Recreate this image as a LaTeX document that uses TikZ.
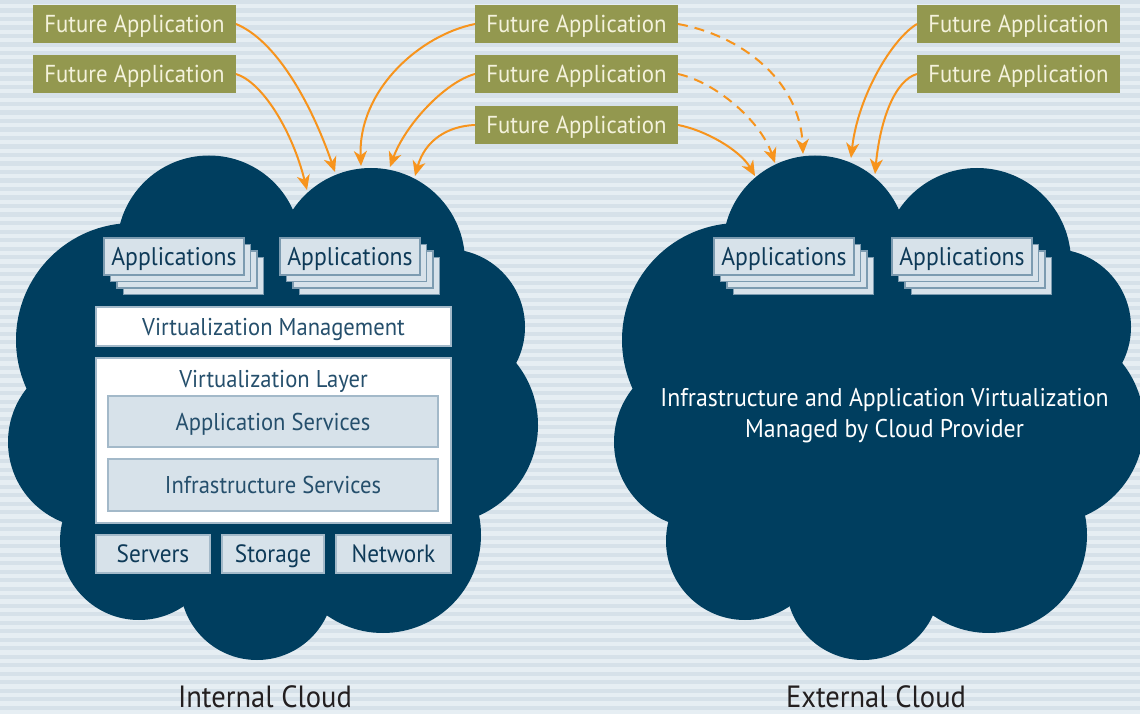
\documentclass[tikz,border=0pt]{standalone}
\usepackage{fontspec}
\setmainfont{PT Sans}[FakeStretch=0.93]
\usetikzlibrary{arrows.meta}
\definecolor{bglight}{HTML}{E6EEF3}
\definecolor{bgdark}{HTML}{D6E1E9}
\definecolor{cloudc}{HTML}{003E5F}
\definecolor{olive}{HTML}{93984F}
\definecolor{olivetxt}{HTML}{F4F2DC}
\definecolor{orng}{HTML}{F7941D}
\definecolor{appfill}{HTML}{D7E2EA}
\definecolor{appdraw}{HTML}{7C9BB0}
\definecolor{layerdraw}{HTML}{A3B9C9}
\definecolor{navytxt}{HTML}{0E3A58}
\definecolor{lighttxt}{HTML}{254F6C}
\definecolor{labeltxt}{HTML}{231F20}
\newcommand\appstack[3]{%
  \foreach \d in {19.5,13,6.5} {\draw[stackbox] (#2+\d,#3+\d) rectangle ++(140,37);}
  \node[appbox] (#1) at (#2,#3) {Applications};
}
\newcommand\cloudblob{%
  \fill[cloudc] (209,247.5) circle[radius=92pt];
  \fill[cloudc] (371,262) circle[radius=94pt];
  \fill[cloudc] (447,327) circle[radius=78pt];
  \fill[cloudc] (439,425) circle[radius=99pt];
  \fill[cloudc] (383,535) circle[radius=98pt];
  \fill[cloudc] (257,583) circle[radius=77pt];
  \fill[cloudc] (139,541) circle[radius=79pt];
  \fill[cloudc] (94,442) circle[radius=86pt];
  \fill[cloudc] (133,340) circle[radius=117pt];
  \fill[cloudc] (209,247.5) -- (371,262) -- (447,327) -- (439,425) -- (383,535) -- (257,583) -- (139,541) -- (94,442) -- (133,340) -- cycle;
}
\begin{document}
\begin{tikzpicture}[x=1pt,y=-1pt,
  base/.style={inner sep=0pt, outer sep=0pt, anchor=north west, text depth=0pt},
  future/.style={base, fill=olive, text=olivetxt, minimum width=203pt, minimum height=38pt, text height=17.1pt, font=\fontsize{24.5}{30}\selectfont},
  appbox/.style={base, fill=appfill, draw=appdraw, line width=1.5pt, text=navytxt, minimum width=140pt, minimum height=37pt, text height=17.8pt, font=\fontsize{25.5}{30}\selectfont},
  stackbox/.style={fill=appfill, draw=appdraw, line width=1.5pt},
  whitebox/.style={base, fill=white, draw=layerdraw, line width=1.5pt, text=lighttxt, text height=17pt, font=\fontsize{24.3}{30}\selectfont},
  svcbox/.style={base, fill=appfill, draw=layerdraw, line width=1.5pt, text=lighttxt, text height=17pt, font=\fontsize{24.3}{30}\selectfont},
  hwbox/.style={base, fill=appfill, draw=layerdraw, line width=1.5pt, text=navytxt, minimum height=38pt, text height=17.5pt, font=\fontsize{25}{30}\selectfont},
  plain/.style={inner sep=0pt, text depth=0pt},
  arr/.style={draw=orng, line width=2pt, -{Stealth[length=15pt, width=13pt, inset=4.5pt]}},
  darr/.style={arr, dash pattern=on 10pt off 7pt}
]
\clip (0,0) rectangle (1140,714);
\fill[bglight] (0,0) rectangle (1140,714);
\foreach \i in {0,...,84} {\fill[bgdark] (0,\i*8.5) rectangle (1140,\i*8.5+4.2);}

% clouds
\cloudblob
\begin{scope}[xshift=606pt]\cloudblob\end{scope}

% future applications
\node[future] (fl1) at (33,5) {Future Application};
\node[future] (fl2) at (33,55) {Future Application};
\node[future] (fm1) at (475,5) {Future Application};
\node[future] (fm2) at (475,55) {Future Application};
\node[future] (fm3) at (475,106) {Future Application};
\node[future] (fr1) at (917,5) {Future Application};
\node[future] (fr2) at (917,55) {Future Application};

% arrow targets
\coordinate (tl1) at (335,172);
\coordinate (tl2) at (307,190);
\coordinate (tm1l) at (361,166);
\coordinate (tm2l) at (390,167);
\coordinate (tm3l) at (415,176);
\coordinate (tm3r) at (755,176);
\coordinate (tm2r) at (775,163);
\coordinate (tm1r) at (803,154);
\coordinate (tr1) at (851,158);
\coordinate (tr2) at (875,174);

\draw[arr] (fl1.east) .. controls (275,40) and (310,100) .. (tl1);
\draw[arr] (fl2.east) .. controls (262,82) and (292,130) .. (tl2);
\draw[arr] (fm1.west) .. controls (420,35) and (358,90) .. (tm1l);
\draw[arr] (fm2.west) .. controls (445,82) and (405,125) .. (tm2l);
\draw[arr] (fm3.west) .. controls (448,126) and (425,140) .. (tm3l);
\draw[arr] (fm3.east) .. controls (705,130) and (740,150) .. (tm3r);
\draw[darr] (fm2.east) .. controls (715,82) and (760,120) .. (tm2r);
\draw[darr] (fm1.east) .. controls (740,35) and (800,80) .. (tm1r);
\draw[arr] (fr1.west) .. controls (893,38) and (858,95) .. (tr1);
\draw[arr] (fr2.west) .. controls (895,80) and (880,120) .. (tr2);

% internal cloud content
\appstack{appl1}{104}{238}
\appstack{appl2}{280}{238}
\node[whitebox, minimum width=355pt, minimum height=39pt] (vmgmt) at (96,307) {Virtualization Management};
\node[whitebox, minimum width=355pt, minimum height=165pt] (vlayer) at (96,358) {};
\node[plain, text=lighttxt, text height=17pt, font=\fontsize{24.3}{30}\selectfont] (vltitle) at (273.5,378.5) {Virtualization Layer};
\node[svcbox, minimum width=330pt, minimum height=51pt] (appsvc) at (108,396) {Application Services};
\node[svcbox, minimum width=330pt, minimum height=52pt] (infsvc) at (108,459) {Infrastructure Services};
\node[hwbox, minimum width=114pt] (servers) at (96,535) {Servers};
\node[hwbox, minimum width=102pt] (storage) at (222,535) {Storage};
\node[hwbox, minimum width=115pt] (network) at (336,535) {Network};

% external cloud content
\appstack{appr1}{714}{238}
\appstack{appr2}{892}{238}
\node[plain, text=white, text height=17.9pt, font=\fontsize{25.6}{32}\selectfont] (extxt1) at (884.5,398) {Infrastructure and Application Virtualization};
\node[plain, text=white, text height=17.9pt, font=\fontsize{25.6}{32}\selectfont] (extxt2) at (884.5,429) {Managed by Cloud Provider};

% labels
\node[plain, text=labeltxt, text height=21.5pt, font=\fontsize{30.7}{36}\selectfont] (intlabel) at (265,696.5) {Internal Cloud};
\node[plain, text=labeltxt, text height=21.5pt, font=\fontsize{30.7}{36}\selectfont] (extlabel) at (876,696.5) {External Cloud};
\end{tikzpicture}
\end{document}
